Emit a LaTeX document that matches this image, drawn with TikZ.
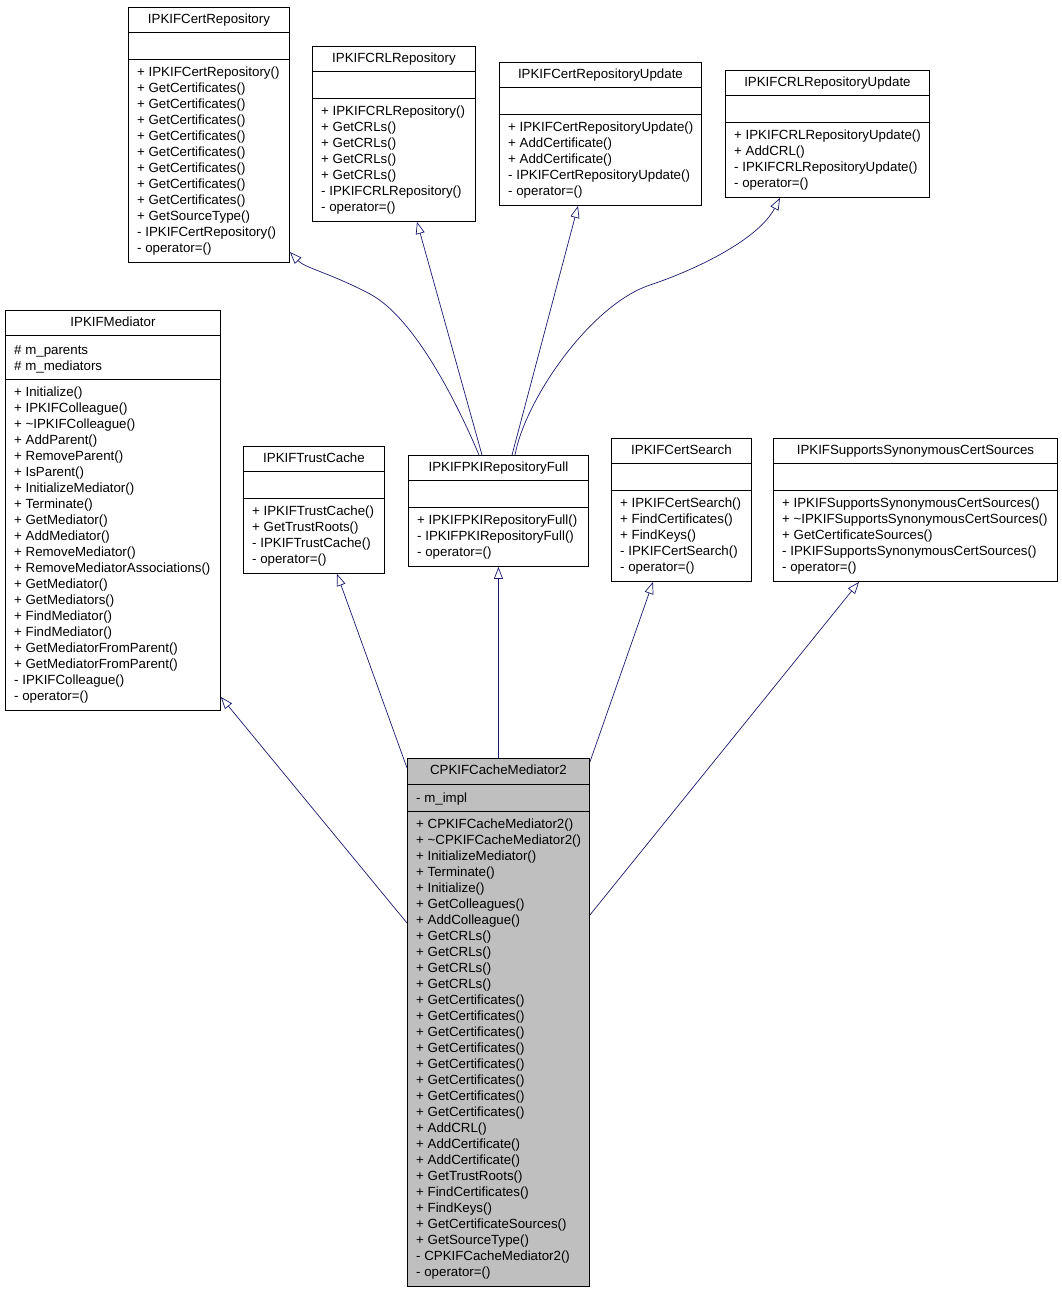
\documentclass[tikz,border=0pt]{standalone}
\usepackage{fontspec}
\setmainfont{Liberation Sans}
\usepackage{tikz}
\usetikzlibrary{arrows.meta}

\definecolor{edgeblue}{HTML}{191970}
\definecolor{classgray}{HTML}{BFBFBF}
\newcommand{\umlfont}{\fontsize{13.3}{16}\selectfont}

\tikzset{
  classbox/.style={draw=black, fill=white, line width=0.9pt, anchor=north west, inner sep=0pt},
  classtitle/.style={anchor=base, inner sep=0pt, font=\umlfont},
  members/.style={anchor=north west, align=left, inner sep=0pt, font=\umlfont},
  sepline/.style={draw=black, line width=0.9pt},
  inherit/.style={draw=edgeblue, line width=0.7pt, -{Triangle[open, length=12pt, width=9pt]}}
}

\begin{document}
\begin{tikzpicture}[x=1pt, y=-1pt]
  \useasboundingbox (0,0) rectangle (1061,1291);

  % top row
  \node[classbox, minimum width=161pt, minimum height=255pt] (certrepo) at (128,7) {};
  \draw[sepline] ([yshift=-25pt]certrepo.north west) -- ([yshift=-25pt]certrepo.north east);
  \draw[sepline] ([yshift=-52pt]certrepo.north west) -- ([yshift=-52pt]certrepo.north east);
  \node[classtitle] (certrepo title) at ([yshift=-16.5pt]certrepo.north) {IPKIFCertRepository};
  \node[members] (certrepo ops) at ([xshift=9pt, yshift=-60pt]certrepo.north west) {+ IPKIFCertRepository()\\+ GetCertificates()\\+ GetCertificates()\\+ GetCertificates()\\+ GetCertificates()\\+ GetCertificates()\\+ GetCertificates()\\+ GetCertificates()\\+ GetCertificates()\\+ GetSourceType()\\- IPKIFCertRepository()\\- operator=()};

  \node[classbox, minimum width=163pt, minimum height=175pt] (crlrepo) at (312,46) {};
  \draw[sepline] ([yshift=-25pt]crlrepo.north west) -- ([yshift=-25pt]crlrepo.north east);
  \draw[sepline] ([yshift=-52pt]crlrepo.north west) -- ([yshift=-52pt]crlrepo.north east);
  \node[classtitle] (crlrepo title) at ([yshift=-16.5pt]crlrepo.north) {IPKIFCRLRepository};
  \node[members] (crlrepo ops) at ([xshift=9pt, yshift=-60pt]crlrepo.north west) {+ IPKIFCRLRepository()\\+ GetCRLs()\\+ GetCRLs()\\+ GetCRLs()\\+ GetCRLs()\\- IPKIFCRLRepository()\\- operator=()};

  \node[classbox, minimum width=202pt, minimum height=143pt] (certupd) at (499,62) {};
  \draw[sepline] ([yshift=-25pt]certupd.north west) -- ([yshift=-25pt]certupd.north east);
  \draw[sepline] ([yshift=-52pt]certupd.north west) -- ([yshift=-52pt]certupd.north east);
  \node[classtitle] (certupd title) at ([yshift=-16.5pt]certupd.north) {IPKIFCertRepositoryUpdate};
  \node[members] (certupd ops) at ([xshift=9pt, yshift=-60pt]certupd.north west) {+ IPKIFCertRepositoryUpdate()\\+ AddCertificate()\\+ AddCertificate()\\- IPKIFCertRepositoryUpdate()\\- operator=()};

  \node[classbox, minimum width=204pt, minimum height=127pt] (crlupd) at (725,70) {};
  \draw[sepline] ([yshift=-25pt]crlupd.north west) -- ([yshift=-25pt]crlupd.north east);
  \draw[sepline] ([yshift=-52pt]crlupd.north west) -- ([yshift=-52pt]crlupd.north east);
  \node[classtitle] (crlupd title) at ([yshift=-16.5pt]crlupd.north) {IPKIFCRLRepositoryUpdate};
  \node[members] (crlupd ops) at ([xshift=9pt, yshift=-60pt]crlupd.north west) {+ IPKIFCRLRepositoryUpdate()\\+ AddCRL()\\- IPKIFCRLRepositoryUpdate()\\- operator=()};

  % middle row
  \node[classbox, minimum width=215pt, minimum height=400pt] (mediator) at (5,310) {};
  \draw[sepline] ([yshift=-25pt]mediator.north west) -- ([yshift=-25pt]mediator.north east);
  \draw[sepline] ([yshift=-69pt]mediator.north west) -- ([yshift=-69pt]mediator.north east);
  \node[classtitle] (mediator title) at ([yshift=-16.5pt]mediator.north) {IPKIFMediator};
  \node[members] (mediator attrs) at ([xshift=9pt, yshift=-35pt]mediator.north west) {\# m\_parents\\\# m\_mediators};
  \node[members] (mediator ops) at ([xshift=9pt, yshift=-77pt]mediator.north west) {+ Initialize()\\+ IPKIFColleague()\\+ \textasciitilde IPKIFColleague()\\+ AddParent()\\+ RemoveParent()\\+ IsParent()\\+ InitializeMediator()\\+ Terminate()\\+ GetMediator()\\+ AddMediator()\\+ RemoveMediator()\\+ RemoveMediatorAssociations()\\+ GetMediator()\\+ GetMediators()\\+ FindMediator()\\+ FindMediator()\\+ GetMediatorFromParent()\\+ GetMediatorFromParent()\\- IPKIFColleague()\\- operator=()};

  \node[classbox, minimum width=141pt, minimum height=127pt] (trust) at (243,446) {};
  \draw[sepline] ([yshift=-25pt]trust.north west) -- ([yshift=-25pt]trust.north east);
  \draw[sepline] ([yshift=-52pt]trust.north west) -- ([yshift=-52pt]trust.north east);
  \node[classtitle] (trust title) at ([yshift=-16.5pt]trust.north) {IPKIFTrustCache};
  \node[members] (trust ops) at ([xshift=9pt, yshift=-60pt]trust.north west) {+ IPKIFTrustCache()\\+ GetTrustRoots()\\- IPKIFTrustCache()\\- operator=()};

  \node[classbox, minimum width=180pt, minimum height=111pt] (full) at (408,455) {};
  \draw[sepline] ([yshift=-25pt]full.north west) -- ([yshift=-25pt]full.north east);
  \draw[sepline] ([yshift=-52pt]full.north west) -- ([yshift=-52pt]full.north east);
  \node[classtitle] (full title) at ([yshift=-16.5pt]full.north) {IPKIFPKIRepositoryFull};
  \node[members] (full ops) at ([xshift=9pt, yshift=-60pt]full.north west) {+ IPKIFPKIRepositoryFull()\\- IPKIFPKIRepositoryFull()\\- operator=()};

  \node[classbox, minimum width=140pt, minimum height=143pt] (certsearch) at (611,438) {};
  \draw[sepline] ([yshift=-25pt]certsearch.north west) -- ([yshift=-25pt]certsearch.north east);
  \draw[sepline] ([yshift=-52pt]certsearch.north west) -- ([yshift=-52pt]certsearch.north east);
  \node[classtitle] (certsearch title) at ([yshift=-16.5pt]certsearch.north) {IPKIFCertSearch};
  \node[members] (certsearch ops) at ([xshift=9pt, yshift=-60pt]certsearch.north west) {+ IPKIFCertSearch()\\+ FindCertificates()\\+ FindKeys()\\- IPKIFCertSearch()\\- operator=()};

  \node[classbox, minimum width=284pt, minimum height=143pt] (synonym) at (773,438) {};
  \draw[sepline] ([yshift=-25pt]synonym.north west) -- ([yshift=-25pt]synonym.north east);
  \draw[sepline] ([yshift=-52pt]synonym.north west) -- ([yshift=-52pt]synonym.north east);
  \node[classtitle] (synonym title) at ([yshift=-16.5pt]synonym.north) {IPKIFSupportsSynonymousCertSources};
  \node[members] (synonym ops) at ([xshift=9pt, yshift=-60pt]synonym.north west) {+ IPKIFSupportsSynonymousCertSources()\\+ \textasciitilde IPKIFSupportsSynonymousCertSources()\\+ GetCertificateSources()\\- IPKIFSupportsSynonymousCertSources()\\- operator=()};

  % the class itself
  \node[classbox, fill=classgray, minimum width=182pt, minimum height=528pt] (cache) at (407,758) {};
  \draw[sepline] ([yshift=-26pt]cache.north west) -- ([yshift=-26pt]cache.north east);
  \draw[sepline] ([yshift=-53pt]cache.north west) -- ([yshift=-53pt]cache.north east);
  \node[classtitle] (cache title) at ([yshift=-16.5pt]cache.north) {CPKIFCacheMediator2};
  \node[members] (cache attrs) at ([xshift=9pt, yshift=-35pt]cache.north west) {- m\_impl};
  \node[members] (cache ops) at ([xshift=9pt, yshift=-61pt]cache.north west) {+ CPKIFCacheMediator2()\\+ \textasciitilde CPKIFCacheMediator2()\\+ InitializeMediator()\\+ Terminate()\\+ Initialize()\\+ GetColleagues()\\+ AddColleague()\\+ GetCRLs()\\+ GetCRLs()\\+ GetCRLs()\\+ GetCRLs()\\+ GetCertificates()\\+ GetCertificates()\\+ GetCertificates()\\+ GetCertificates()\\+ GetCertificates()\\+ GetCertificates()\\+ GetCertificates()\\+ GetCertificates()\\+ AddCRL()\\+ AddCertificate()\\+ AddCertificate()\\+ GetTrustRoots()\\+ FindCertificates()\\+ FindKeys()\\+ GetCertificateSources()\\+ GetSourceType()\\- CPKIFCacheMediator2()\\- operator=()};

  % inheritance
  \draw[inherit] ([yshift=-165pt]cache.north west) -- ([yshift=-387pt]mediator.north east);
  \draw[inherit] ([yshift=-10pt]cache.north west) -- ([xshift=94pt]trust.south west);
  \draw[inherit] (cache.north) -- (full.south);
  \draw[inherit] ([yshift=-4pt]cache.north east) -- ([xshift=42pt]certsearch.south west);
  \draw[inherit] ([yshift=-157pt]cache.north east) -- ([xshift=86pt]synonym.south west);

  \draw[inherit] ([xshift=71pt]full.north west) .. controls (458,405) and (415,318) .. (370,294)
    .. controls (330,273) and (305,268) .. ([yshift=-245pt]certrepo.north east);
  \draw[inherit] ([xshift=74pt]full.north west) -- ([xshift=105pt]crlrepo.south west);
  \draw[inherit] ([xshift=104pt]full.north west) -- ([xshift=79pt]certupd.south west);
  \draw[inherit] ([xshift=107pt]full.north west) .. controls (525,400) and (590,305) .. (650,285)
    .. controls (695,270) and (758,240) .. ([xshift=55pt]crlupd.south west);
\end{tikzpicture}
\end{document}
